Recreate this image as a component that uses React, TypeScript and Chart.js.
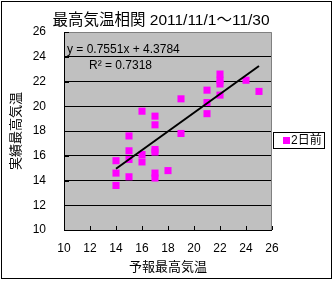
import React, { useEffect, useRef } from "react";
import { Chart, registerables } from "chart.js";
Chart.register(...registerables);

const chartTitle = "最高気温相関 2011/11/1～11/30";
const xTitle = "予報最高気温";
const yTitle = "実績最高気温";
const seriesLabel = "2日前";
const forecast = [16, 17, 17, 19, 21, 21, 21, 22, 22, 22, 22, 24, 25, 15, 19, 14, 15, 15, 16, 16, 17, 17, 14, 14, 15, 17, 17, 18];
const actual = [19.6, 19.2, 18.5, 20.6, 21.3, 20.3, 19.4, 22.6, 22.1, 21.8, 20.9, 22.1, 21.2, 17.6, 17.8, 15.6, 16.4, 15.7, 16.1, 15.5, 16.5, 16.3, 14.6, 13.6, 14.3, 14.6, 14.2, 14.8];
const axisMin = 10;
const axisMax = 26;
const axisStep = 2;
const trendSlope = 0.7551;
const trendIntercept = 4.3784;
const trendR2 = 0.7318;
const trendXRange = [14, 25];

const FONT = '"Liberation Sans", "Noto Sans CJK JP", sans-serif';
const MAGENTA = "#FF00FF";

const decorPlugin = {
  id: "decor",
  beforeDraw(chart: any) {
    const { ctx, chartArea: a } = chart;
    ctx.save();
    ctx.fillStyle = "#fff";
    ctx.fillRect(0, 0, chart.width, chart.height);
    ctx.fillStyle = "#C0C0C0";
    ctx.fillRect(a.left, a.top, a.right - a.left, a.bottom - a.top);
    ctx.restore();
  },
  afterDraw(chart: any) {
    const { ctx, chartArea: a } = chart;
    const xs = chart.scales.x;
    const ys = chart.scales.y;
    ctx.save();
    ctx.strokeStyle = "#808080";
    ctx.lineWidth = 1;
    ctx.beginPath();
    ctx.moveTo(a.left, a.top + 0.5);
    ctx.lineTo(a.right - 0.5, a.top + 0.5);
    ctx.lineTo(a.right - 0.5, a.bottom);
    ctx.stroke();
    ctx.strokeStyle = "#000";
    ctx.beginPath();
    ctx.moveTo(a.left + 0.5, a.top);
    ctx.lineTo(a.left + 0.5, a.bottom + 0.5);
    ctx.lineTo(a.right, a.bottom + 0.5);
    ctx.stroke();
    ctx.beginPath();
    for (let v = axisMin; v <= axisMax; v += axisStep) {
      const px = Math.round(xs.getPixelForValue(v)) + 0.5;
      ctx.moveTo(px, a.bottom);
      ctx.lineTo(px, a.bottom - 4);
      const py = Math.round(ys.getPixelForValue(v)) + 0.5;
      ctx.moveTo(a.left, py);
      ctx.lineTo(a.left + 5, py);
    }
    ctx.stroke();
    // chart title
    ctx.fillStyle = "#000";
    ctx.textBaseline = "middle";
    ctx.textAlign = "center";
    ctx.font = `15.5px ${FONT}`;
    ctx.fillText(chartTitle, 161, 20.5);
    // trend equation
    ctx.font = `12px ${FONT}`;
    ctx.textAlign = "left";
    ctx.fillText(`y = ${trendSlope}x + ${trendIntercept}`, a.left + 3, 50);
    ctx.fillText(`R² = ${trendR2}`, a.left + 25, 66);
    // legend
    ctx.fillStyle = "#fff";
    ctx.fillRect(273.5, 132.5, 51, 16);
    ctx.strokeStyle = "#000";
    ctx.strokeRect(273.5, 132.5, 51, 16);
    ctx.fillStyle = MAGENTA;
    ctx.fillRect(283, 137, 7, 7);
    ctx.fillStyle = "#000";
    ctx.font = `12px ${FONT}`;
    ctx.fillText(chart.data.datasets[0].label, 291, 141);
    ctx.strokeRect(1.5, 1.5, 330, 277);
    ctx.restore();
  },
};

export default function App() {
  const ref = useRef<HTMLCanvasElement | null>(null);
  useEffect(() => {
    if (!ref.current) return;
    const points = forecast.map((x, i) => ({ x, y: actual[i] }));
    const trend = trendXRange.map((x) => ({ x, y: trendSlope * x + trendIntercept }));
    const chart = new Chart(ref.current, {
      type: "scatter",
      data: {
        datasets: [
          {
            label: seriesLabel,
            data: points,
            pointStyle: "rect",
            pointRadius: 5,
            backgroundColor: MAGENTA,
            borderColor: MAGENTA,
            borderWidth: 0,
            order: 2,
          },
          {
            type: "line",
            label: "trend",
            data: trend,
            borderColor: "#000",
            borderWidth: 2,
            pointRadius: 0,
            showLine: true,
            fill: false,
            order: 1,
          } as any,
        ],
      },
      options: {
        animation: false,
        responsive: false,
        devicePixelRatio: 1,
        layout: { padding: { left: 5, right: 62, top: 32, bottom: 4 } },
        plugins: {
          legend: { display: false },
          tooltip: { enabled: false },
          title: { display: false },
        },
        scales: {
          x: {
            type: "linear",
            min: axisMin,
            max: axisMax,
            ticks: { stepSize: axisStep, color: "#000", font: { family: FONT, size: 12 }, padding: 11, maxRotation: 0 },
            grid: { display: false, drawTicks: false },
            border: { display: false },
            title: { display: true, text: xTitle, color: "#000", font: { family: FONT, size: 13 }, padding: { top: 0, bottom: 2 } },
            afterFit: (s: any) => { s.height = 47; },
          },
          y: {
            type: "linear",
            min: axisMin,
            max: axisMax,
            ticks: { stepSize: axisStep, color: "#000", font: { family: FONT, size: 12 }, padding: 18 },
            grid: {
              drawTicks: false,
              color: (c: any) => (c.tick && (c.tick.value === axisMin || c.tick.value === axisMax) ? "rgba(0,0,0,0)" : "#000"),
              lineWidth: 1,
            },
            border: { display: false },
            title: { display: true, text: yTitle, color: "#000", font: { family: FONT, size: 13 }, padding: { top: 4, bottom: 0 } },
            afterFit: (s: any) => { s.width = 59; },
          },
        },
      },
      plugins: [decorPlugin],
    });
    return () => chart.destroy();
  }, []);
  return (
    <div style={{ position: "fixed", left: 0, top: 0, width: 334, height: 281 }}>
      <canvas ref={ref} width={334} height={281} style={{ width: 334, height: 281 }} />
    </div>
  );
}
